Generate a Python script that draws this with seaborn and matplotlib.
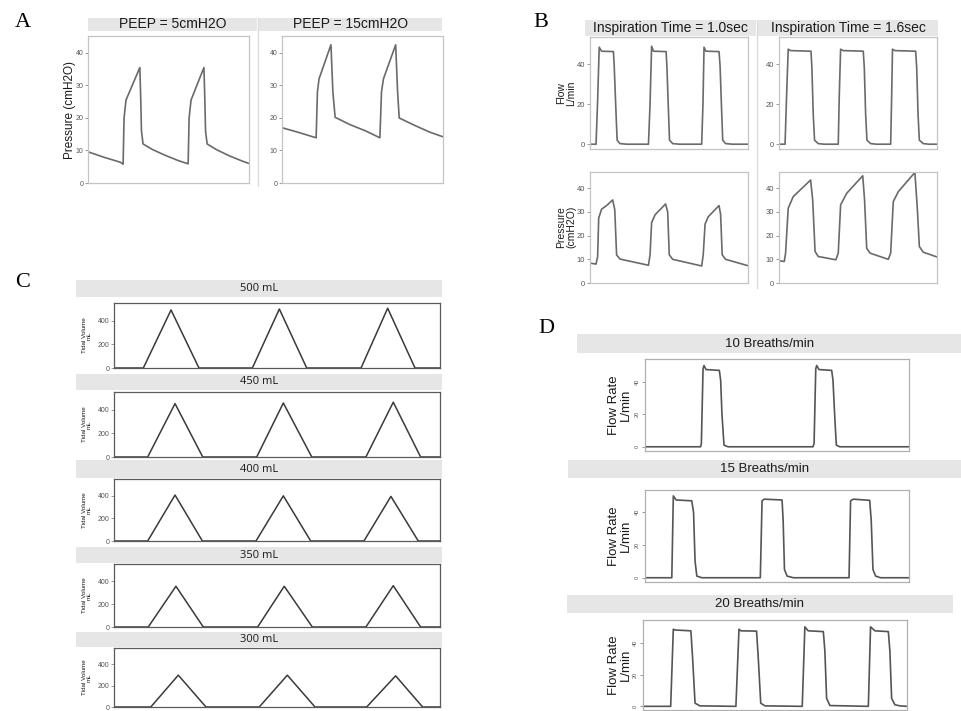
import numpy as np
import pandas as pd
import matplotlib
matplotlib.use("Agg")
import matplotlib.pyplot as plt
from matplotlib.lines import Line2D
import seaborn as sns

sns.set_theme(style="white")
plt.rcParams["font.family"] = ["Liberation Sans", "DejaVu Sans"]

# ---------------- data ----------------
# Panel A: airway pressure, PEEP settings
a_titles = ["PEEP = 5cmH2O", "PEEP = 15cmH2O"]
a_peep5_t = [0, 0.5, 1.0, 1.09, 1.12, 1.18, 1.61, 1.64, 1.66, 1.71, 2.0, 2.4, 2.8,
             3.11, 3.14, 3.2, 3.6, 3.63, 3.65, 3.7, 4.0, 4.4, 4.8, 5.0]
a_peep5_p = [9.6, 7.9, 6.4, 5.8, 20, 25.5, 35.5, 25, 16, 12, 10.3, 8.5, 6.9,
             5.9, 20, 25.5, 35.5, 25, 16, 12, 10.2, 8.3, 6.7, 6.0]
a_peep15_t = [0, 0.5, 1.06, 1.10, 1.15, 1.52, 1.58, 1.65, 2.1, 2.6, 3.04,
              3.09, 3.15, 3.53, 3.59, 3.64, 4.1, 4.6, 5.0]
a_peep15_p = [17.0, 15.6, 13.9, 28, 32, 42.5, 28, 20.2, 18.0, 16.0, 13.9,
              28, 32, 42.5, 28, 20.0, 17.8, 15.6, 14.2]

# Panel B: inspiration time
b_titles = ["Inspiration Time = 1.0sec", "Inspiration Time = 1.6sec"]
b_flow10_t = [0, 0.23, 0.29, 0.35, 0.44, 0.89, 0.92, 0.975, 1.03, 1.14, 1.4,
              2.22, 2.28, 2.34, 2.41, 2.89, 2.92, 2.97, 3.02, 3.14, 3.4,
              4.24, 4.29, 4.33, 4.40, 4.90, 4.94, 4.99, 5.04, 5.15, 5.4, 6.0]
b_flow10_f = [0, 0, 22, 48.5, 46.5, 46.3, 39, 20, 2, 0.3, 0,
              0, 20, 49, 46.5, 46.3, 39, 20, 2, 0.3, 0,
              0, 20, 48.5, 46.5, 46.3, 39, 20, 2, 0.3, 0, 0]
b_flow16_t = [0, 0.23, 0.29, 0.35, 0.44, 1.215, 1.25, 1.30, 1.35, 1.49, 1.7,
              2.25, 2.29, 2.34, 2.44, 3.20, 3.24, 3.29, 3.34, 3.48, 3.7,
              4.24, 4.28, 4.31, 4.40, 5.19, 5.23, 5.28, 5.33, 5.48, 5.7, 6.0]
b_flow16_f = [0, 0, 25, 47.5, 46.8, 46.5, 38, 15, 2, 0.3, 0,
              0, 25, 47.5, 46.8, 46.5, 38, 15, 2, 0.3, 0,
              0, 25, 47.5, 46.8, 46.5, 38, 15, 2, 0.3, 0, 0]
b_pres10_t = [0, 0.23, 0.29, 0.33, 0.44, 0.66, 0.86, 0.94, 1.01, 1.14, 2.22,
              2.28, 2.34, 2.47, 2.87, 2.95, 3.01, 3.14, 4.24,
              4.30, 4.37, 4.49, 4.90, 4.96, 5.02, 5.15, 6.0]
b_pres10_p = [8.4, 8.0, 11.2, 27.4, 31.2, 33.0, 35.1, 31, 11.9, 10.1, 7.5,
              11.9, 25.5, 28.8, 33.4, 30, 11.9, 10.0, 7.2,
              11.9, 24.9, 28.0, 32.7, 29, 11.9, 10.0, 7.3]
b_pres16_t = [0, 0.20, 0.25, 0.35, 0.54, 1.20, 1.28, 1.37, 1.49, 2.16,
              2.25, 2.34, 2.57, 3.18, 3.25, 3.33, 3.46, 4.15,
              4.24, 4.34, 4.53, 5.16, 5.25, 5.33, 5.48, 6.0]
b_pres16_p = [9.4, 9.1, 12.6, 31.6, 36.5, 43.5, 35, 13.3, 11.2, 9.8,
              12.6, 33, 37.9, 45.3, 35, 14.7, 12.6, 10.0,
              12.6, 34.4, 38.6, 46.7, 32, 15.4, 13.0, 11.0]

# Panel C: tidal volume
c_titles = ["500 mL", "450 mL", "400 mL", "350 mL", "300 mL"]
c_t500 = [0, 1.62, 3.15, 4.69, 7.64, 9.13, 10.64, 13.64, 15.11, 16.62, 18]
c_v500 = [0, 0, 490, 0, 0, 498, 0, 0, 505, 0, 0]
c_t450 = [0, 1.86, 3.37, 4.90, 7.88, 9.35, 10.92, 13.91, 15.42, 16.93, 18]
c_v450 = [0, 0, 451, 0, 0, 456, 0, 0, 463, 0, 0]
c_t400 = [0, 1.86, 3.37, 4.88, 7.84, 9.35, 10.86, 13.80, 15.29, 16.80, 18]
c_v400 = [0, 0, 407, 0, 0, 400, 0, 0, 395, 0, 0]
c_t350 = [0, 1.89, 3.42, 4.93, 7.93, 9.40, 10.95, 13.91, 15.42, 16.93, 18]
c_v350 = [0, 0, 355, 0, 0, 355, 0, 0, 360, 0, 0]
c_t300 = [0, 2.03, 3.55, 5.08, 8.02, 9.57, 11.10, 13.95, 15.55, 17.04, 18]
c_v300 = [0, 0, 296, 0, 0, 296, 0, 0, 290, 0, 0]

# Panel D: respiratory rate
d_titles = ["10 Breaths/min", "15 Breaths/min", "20 Breaths/min"]
d10_t = [0, 2.97, 3.01, 3.10, 3.15, 3.26, 3.97, 4.04, 4.11, 4.22, 4.43,
         8.97, 9.03, 9.12, 9.17, 9.29, 9.97, 10.04, 10.15, 10.22, 10.4, 14.1]
d10_f = [0, 0, 2, 48, 50, 47.5, 47, 41, 20, 1, 0,
         0, 2, 48, 50, 47.5, 47, 41, 15, 1, 0, 0]
d15_t = [0, 1.22, 1.29, 1.42, 2.13, 2.21, 2.28, 2.36, 2.59,
         5.25, 5.33, 5.43, 6.24, 6.29, 6.35, 6.47, 6.76,
         9.29, 9.36, 9.48, 10.23, 10.30, 10.38, 10.50, 10.73, 12.02]
d15_f = [0, 0, 50, 47.5, 47, 40, 10, 1, 0,
         0, 47, 48, 47.5, 35, 5, 1, 0,
         0, 47, 48, 47.3, 35, 5, 1, 0, 0]
d20_t = [0, 1.26, 1.38, 1.46, 2.18, 2.26, 2.37, 2.59,
         4.23, 4.37, 4.46, 5.17, 5.25, 5.36, 5.55,
         7.25, 7.37, 7.52, 8.21, 8.28, 8.36, 8.51,
         10.26, 10.36, 10.56, 11.17, 11.24, 11.32, 11.47, 11.7, 12.02]
d20_f = [0, 0, 48.5, 48, 47.5, 30, 2, 0.3,
         0, 48.5, 47.5, 47.3, 30, 2, 0.3,
         0, 50, 47.5, 47, 35, 5, 0.5,
         0, 50, 47.5, 47, 35, 5, 1, 0.3, 0]

# ---------------- layout helpers ----------------
W, H = 962, 711
fig = plt.figure(figsize=(W / 100, H / 100), dpi=100)
fig.patch.set_facecolor("white")


def rect(x0, y0, x1, y1):
    return [x0 / W, 1 - y1 / H, (x1 - x0) / W, (y1 - y0) / H]


def add_strip(box, label, size, family=None):
    ax = fig.add_axes(rect(*box))
    ax.set_facecolor("#e6e6e6")
    ax.set_xticks([])
    ax.set_yticks([])
    for s in ax.spines.values():
        s.set_visible(False)
    kw = {}
    if family:
        kw["family"] = family
    ax.text(0.5, 0.5, label, ha="center", va="center", fontsize=size,
            color="#1a1a1a", transform=ax.transAxes, **kw)
    return ax


def add_trace(box, t, v, ylim, yticks, lc, lw, sc, tsize, rot=0):
    ax = fig.add_axes(rect(*box))
    df = pd.DataFrame({"t": t, "v": v})
    sns.lineplot(data=df, x="t", y="v", ax=ax, color=lc, linewidth=lw,
                 estimator=None, sort=False)
    ax.set_xlim(t[0], t[-1])
    ax.set_ylim(*ylim)
    ax.set_xticks([])
    ax.set_yticks(yticks)
    ax.set_xlabel("")
    ax.set_ylabel("")
    for s in ax.spines.values():
        s.set_visible(True)
        s.set_color(sc)
        s.set_linewidth(0.9)
    ax.tick_params(axis="y", left=True, length=2.5, width=0.6, color="#888888",
                   labelsize=tsize, labelcolor="#555555", pad=1, labelrotation=rot)
    if rot:
        for lab in ax.get_yticklabels():
            lab.set_va("center")
    return ax


def sep(x, y0, y1):
    fig.add_artist(Line2D([x / W, x / W], [1 - y0 / H, 1 - y1 / H],
                          color="#dcdcdc", lw=1.0))


def letter(ch, x, y):
    fig.text(x / W, 1 - y / H, ch, family=["Liberation Serif", "DejaVu Serif"],
             fontsize=16, ha="left", va="baseline", color="black")


def ylab(text, x, y, size, ls=1.0):
    fig.text(x / W, 1 - y / H, text, rotation=90, ha="center", va="center",
             fontsize=size, color="#1a1a1a", linespacing=ls)


AB_LINE = "#6a6a6a"
AB_SPINE = "#c4c4c4"

# ---------------- Panel A ----------------
letter("A", 15, 27)
add_strip((88, 18, 257, 31), a_titles[0], 10)
add_strip((259, 18, 442, 31), a_titles[1], 10)
sep(258, 18, 186)
add_trace((88, 36, 249, 183), a_peep5_t, a_peep5_p, (0, 45.2), [0, 10, 20, 30, 40],
          AB_LINE, 1.2, AB_SPINE, 5)
add_trace((282, 36, 443, 183), a_peep15_t, a_peep15_p, (0, 45.2), [0, 10, 20, 30, 40],
          AB_LINE, 1.2, AB_SPINE, 5)
ylab("Pressure (cmH2O)", 70, 110, 8.5)

# ---------------- Panel B ----------------
letter("B", 533, 27)
add_strip((585, 20, 756, 36), b_titles[0], 10)
add_strip((758, 20, 938, 36), b_titles[1], 10)
sep(757, 20, 288)
add_trace((590, 37, 748, 149), b_flow10_t, b_flow10_f, (-2.4, 53.6), [0, 20, 40],
          AB_LINE, 1.2, AB_SPINE, 5.5)
add_trace((779, 37, 937, 149), b_flow16_t, b_flow16_f, (-2.4, 53.6), [0, 20, 40],
          AB_LINE, 1.2, AB_SPINE, 5.5)
add_trace((590, 172, 748, 283), b_pres10_t, b_pres10_p, (0, 46.9), [0, 10, 20, 30, 40],
          AB_LINE, 1.2, AB_SPINE, 5.5)
add_trace((779, 172, 937, 283), b_pres16_t, b_pres16_p, (0, 46.9), [0, 10, 20, 30, 40],
          AB_LINE, 1.2, AB_SPINE, 5.5)
ylab("Flow\nL/min", 566, 93, 7.5)
ylab("Pressure\n(cmH2O)", 566, 227, 7.5)

# ---------------- Panel C ----------------
letter("C", 15, 287)
c_rows = [
    ((76, 280, 442, 297), (114, 303, 440, 368), c_t500, c_v500),
    ((76, 374, 442, 390), (114, 392, 440, 457), c_t450, c_v450),
    ((76, 460, 442, 478), (114, 479, 440, 541), c_t400, c_v400),
    ((76, 547, 442, 563), (114, 564, 440, 627), c_t350, c_v350),
    ((76, 632, 442, 647), (114, 648, 440, 707), c_t300, c_v300),
]
for title, (sbox, pbox, t, v) in zip(c_titles, c_rows):
    add_strip(sbox, title, 8, family=["Open Sans", "DejaVu Sans"])
    add_trace(pbox, t, v, (0, 549), [0, 200, 400], "#3a3a3a", 1.1, "#5a5a5a", 5)
    ylab("Tidal Volume\nmL", 86.5, (pbox[1] + pbox[3]) / 2, 4.5)

# ---------------- Panel D ----------------
letter("D", 538, 333)
d_rows = [
    ((577, 334, 962, 353), (645, 359, 909, 451), d10_t, d10_f, (-2.6, 54)),
    ((568, 460, 962, 478), (645, 490, 909, 582), d15_t, d15_f, (-2.6, 53.6)),
    ((567, 595, 953, 613), (643, 620, 907, 710), d20_t, d20_f, (-2.3, 54.3)),
]
for title, (sbox, pbox, t, v, yl) in zip(d_titles, d_rows):
    add_strip(sbox, title, 9.5)
    add_trace(pbox, t, v, yl, [0, 20, 40], "#555555", 1.2, "#b0b0b0", 4, rot=90)
    ylab("Flow Rate\nL/min", 620, (pbox[1] + pbox[3]) / 2, 9.5, ls=1.0)

fig.savefig("out.png", dpi=100, facecolor="white")
